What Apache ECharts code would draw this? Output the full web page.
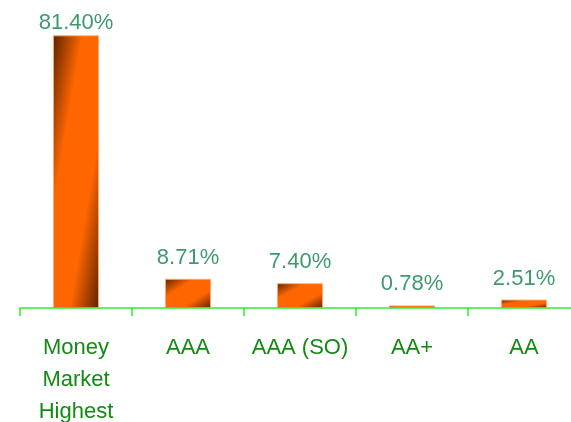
<!DOCTYPE html>
<html>
<head>
<meta charset="utf-8">
<script src="https://cdn.jsdelivr.net/npm/echarts@6/dist/echarts.min.js"></script>
<style>
html,body{margin:0;padding:0;background:#fff;}
#c{width:571px;height:422px;}
</style>
</head>
<body>
<div id="c"></div>
<script>
var categories = ['Money\nMarket\nHighest', 'AAA', 'AAA (SO)', 'AA+', 'AA'];
var values = [81.40, 8.71, 7.40, 0.78, 2.51];

var DARK = '#5e2200', ORANGE = '#ff6600';
var BAR_W = 46;

function gradFor(w, h) {
  var d = h * h + w * w;
  return {
    type: 'linear', x: 0, y: 0, x2: 2 * h * h / d, y2: 2 * w * w / d,
    colorStops: [
      {offset: 0, color: DARK},
      {offset: 0.32, color: ORANGE},
      {offset: 0.68, color: ORANGE},
      {offset: 1, color: DARK}
    ]
  };
}

var chart = echarts.init(document.getElementById('c'), null, {renderer: 'canvas'});
var option = {
  animation: false,
  grid: {left: 20, right: -9, top: 6.5, bottom: 114, containLabel: false, outerBoundsMode: 'none'},
  xAxis: {
    type: 'category',
    data: categories,
    z: 5,
    axisLine: {lineStyle: {color: 'rgba(0,230,0,0.6)', width: 2}},
    axisTick: {show: true, interval: 0, length: 8, lineStyle: {color: 'rgba(0,230,0,0.6)', width: 2}},
    axisLabel: {
      interval: 0,
      margin: 24,
      color: '#138a13',
      fontFamily: 'Liberation Sans, Arial, sans-serif',
      fontSize: 22,
      lineHeight: 32
    }
  },
  yAxis: {
    type: 'value', min: 0, max: 90,
    show: false,
    splitLine: {show: false}
  },
  series: [{
    type: 'bar',
    barWidth: BAR_W,
    data: values,
    itemStyle: {color: ORANGE, borderColor: 'rgba(255,170,110,0.9)', borderWidth: 1},
    label: {
      show: true,
      position: 'top',
      distance: 10,
      color: '#3d9a6c',
      fontFamily: 'Liberation Sans, Arial, sans-serif',
      fontSize: 22,
      formatter: function (p) { return p.value.toFixed(2) + '%'; }
    }
  }]
};
chart.setOption(option);

var zeroY = chart.convertToPixel({yAxisIndex: 0}, 0);
var items = values.map(function (v) {
  var topY = chart.convertToPixel({yAxisIndex: 0}, v);
  var h = Math.max(1, Math.abs(zeroY - topY));
  var item = {value: v, itemStyle: {color: gradFor(BAR_W, h)}};
  // labels near the top edge are squeezed against the bar (kept inside the chart)
  if (topY < 45) item.label = {distance: 1};
  return item;
});
chart.setOption({series: [{data: items}]});
</script>
</body>
</html>
